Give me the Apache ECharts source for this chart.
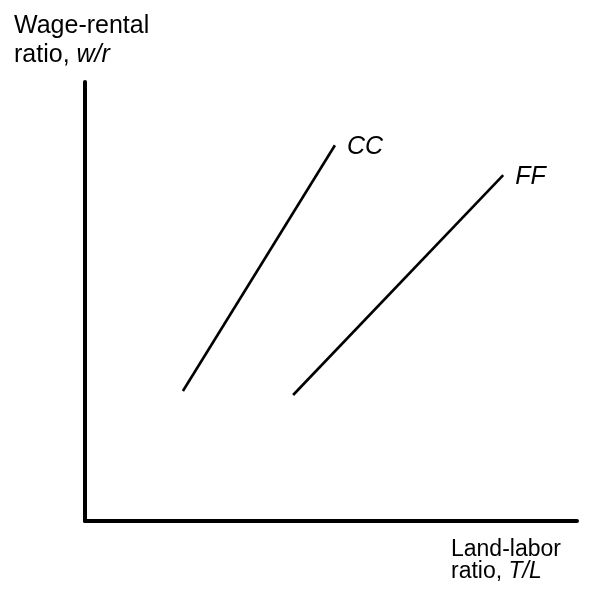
<!DOCTYPE html>
<html>
<head>
<meta charset="utf-8">
<script src="https://cdn.jsdelivr.net/npm/echarts@6/dist/echarts.min.js"></script>
<style>
  html, body { margin: 0; padding: 0; background: #fff; }
  #main { width: 590px; height: 597px; }
</style>
</head>
<body>
<div id="main"></div>
<script>
// curve endpoints, in arbitrary units (land-labor ratio, wage-rental ratio)
const ccX = [1.99, 5.08];
const ccY = [2.96, 8.56];
const ffX = [4.23, 8.50];
const ffY = [2.87, 7.88];
const seriesNames = ['CC', 'FF'];
const yLabel = ['Wage-rental', 'ratio, '];
const xLabel = ['Land-labor', 'ratio, '];

const font = 'Liberation Sans, Arial, sans-serif';
const pairs = (xs, ys) => xs.map((x, i) => [x, ys[i]]);

const chart = echarts.init(document.getElementById('main'));

const lineSeries = (name, data) => ({
  name: name,
  type: 'line',
  data: data,
  symbol: 'none',
  lineStyle: { color: '#000', width: 2.6 },
  endLabel: {
    show: true,
    formatter: '{a}',
    distance: 12,
    color: '#000',
    fontSize: 25,
    fontStyle: 'italic',
    fontFamily: font,
    offset: [0, 2]
  },
  silent: true
});

chart.setOption({
  animation: false,
  backgroundColor: '#fff',
  grid: { left: 85, right: 13, top: 82, bottom: 76 },
  xAxis: {
    type: 'value', min: 0, max: 10,
    axisLine: { show: true, lineStyle: { color: '#000', width: 4 } },
    axisTick: { show: false }, axisLabel: { show: false }, splitLine: { show: false }
  },
  yAxis: {
    type: 'value', min: 0, max: 10,
    axisLine: { show: true, lineStyle: { color: '#000', width: 4 } },
    axisTick: { show: false }, axisLabel: { show: false }, splitLine: { show: false }
  },
  series: [
    lineSeries(seriesNames[0], pairs(ccX, ccY)),
    lineSeries(seriesNames[1], pairs(ffX, ffY))
  ],
  graphic: [
    {
      type: 'text', left: 14, top: 12,
      style: {
        text: yLabel[0] + '\n{r|' + yLabel[1] + '}{i|w/r}',
        fill: '#000', font: '25px ' + font, lineHeight: 29,
        rich: {
          r: { fontSize: 25, fontFamily: font, lineHeight: 29 },
          i: { fontSize: 25, fontFamily: font, fontStyle: 'italic', lineHeight: 29 }
        }
      }
    },
    {
      type: 'text', left: 451, top: 538,
      style: {
        text: xLabel[0] + '\n{r|' + xLabel[1] + '}{i|T/L}',
        fill: '#000', font: '23px ' + font, lineHeight: 22,
        rich: {
          r: { fontSize: 23, fontFamily: font, lineHeight: 22 },
          i: { fontSize: 23, fontFamily: font, fontStyle: 'italic', lineHeight: 22 }
        }
      }
    }
  ]
});
</script>
</body>
</html>
